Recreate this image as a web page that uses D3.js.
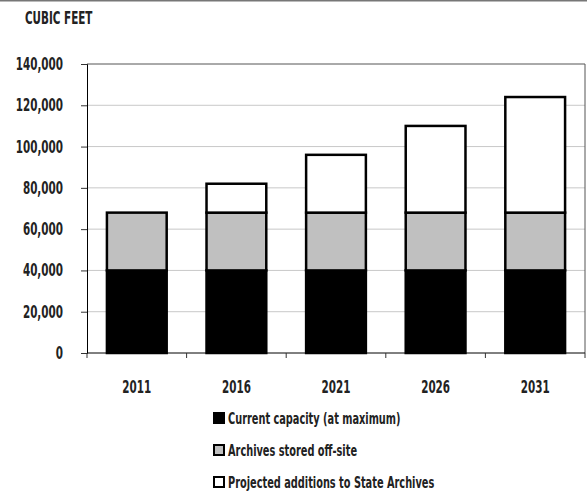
<!DOCTYPE html>
<html><head><meta charset="utf-8">
<script src="https://cdn.jsdelivr.net/npm/d3@7/dist/d3.min.js"></script>
<style>
body{margin:0;background:#fff;}
text{font-family:"DejaVu Sans Condensed","DejaVu Sans",sans-serif;font-stretch:condensed;font-weight:bold;fill:#222;}
</style></head>
<body>
<svg id="c" width="587" height="491"></svg>
<script>
const years = ["2011","2016","2021","2026","2031"];
const currentCapacity = [40000,40000,40000,40000,40000];
const offSite = [28000,28000,28000,28000,28000];
const projected = [0,14000,28000,42000,56000];
const yTicks = [0,20000,40000,60000,80000,100000,120000,140000];
const seriesNames = ["Current capacity (at maximum)","Archives stored off-site","Projected additions to State Archives"];
const seriesColors = ["#000000","#c0c0c0","#ffffff"];

const SX = 0.68;
function squeeze(sel){
  sel.each(function(){
    const t = d3.select(this);
    const xv = +(t.attr("x")||0);
    t.attr("x", xv/SX).attr("transform",`scale(${SX},1)`);
  });
}

const svg = d3.select("#c");
const m = {l:87, r:585, t:64, b:353};
svg.append("line").attr("x1",0).attr("x2",587).attr("y1",0.5).attr("y2",0.5).attr("stroke","#777").attr("stroke-width",2);

const x = d3.scaleBand().domain(years).range([m.l,m.r]).paddingInner(0.4).paddingOuter(0.2);
const y = d3.scaleLinear().domain([0,140000]).range([m.b,m.t]);

svg.append("g").selectAll("line").data(yTicks.filter(d=>d>0 && d<140000)).join("line")
  .attr("x1",m.l).attr("x2",m.r).attr("y1",d=>y(d)).attr("y2",d=>y(d))
  .attr("stroke","#c8c8c8").attr("stroke-width",1);
svg.append("path").attr("d",`M${m.l},${y(140000)}H${m.r}V${m.b}`).attr("fill","none").attr("stroke","#555").attr("stroke-width",1);

const data = years.map((yr,i)=>({year:yr, a:currentCapacity[i], b:offSite[i], c:projected[i]}));
const stack = d3.stack().keys(["a","b","c"])(data);
svg.append("g").selectAll("g").data(stack).join("g")
  .attr("fill",(d,i)=>seriesColors[i])
  .selectAll("rect").data(d=>d.filter(p=>p[1]-p[0]>0)).join("rect")
  .attr("x",d=>x(d.data.year)).attr("width",x.bandwidth())
  .attr("y",d=>y(d[1])).attr("height",d=>y(d[0])-y(d[1]))
  .attr("stroke","#000").attr("stroke-width",2.5);

const ya = svg.append("g").attr("transform",`translate(${m.l},0)`)
  .call(d3.axisLeft(y).tickValues(yTicks).tickFormat(d3.format(",")).tickSize(6).tickPadding(18));
ya.select(".domain").attr("stroke","#000");
ya.selectAll("line").attr("stroke","#333");
ya.selectAll("text").style("font-size","17px").attr("fill","#222").call(squeeze);

const xa = svg.append("g").attr("transform",`translate(0,${m.b})`)
  .call(d3.axisBottom(x).tickSize(0).tickPadding(28));
xa.select(".domain").attr("stroke","#000").attr("d",`M${m.l},0H${m.r}`);
xa.selectAll("text").style("font-size","17px").attr("fill","#222").call(squeeze);
svg.append("g").selectAll("line").data(d3.range(years.length+1)).join("line")
  .attr("x1",i=>m.l+i*(m.r-m.l)/years.length).attr("x2",i=>m.l+i*(m.r-m.l)/years.length)
  .attr("y1",m.b).attr("y2",m.b+5).attr("stroke","#333");

svg.append("text").attr("x",25).attr("y",24).text("CUBIC FEET").style("font-size","17px").call(squeeze);

const lg = svg.append("g").selectAll("g").data(seriesNames).join("g")
  .attr("transform",(d,i)=>`translate(214,${413+i*32})`);
lg.append("rect").attr("width",10).attr("height",10).attr("fill",(d,i)=>seriesColors[i]).attr("stroke","#000").attr("stroke-width",2);
lg.append("text").attr("x",14).attr("y",10.5).text(d=>d).style("font-size","16px").call(squeeze);
</script>
</body></html>
